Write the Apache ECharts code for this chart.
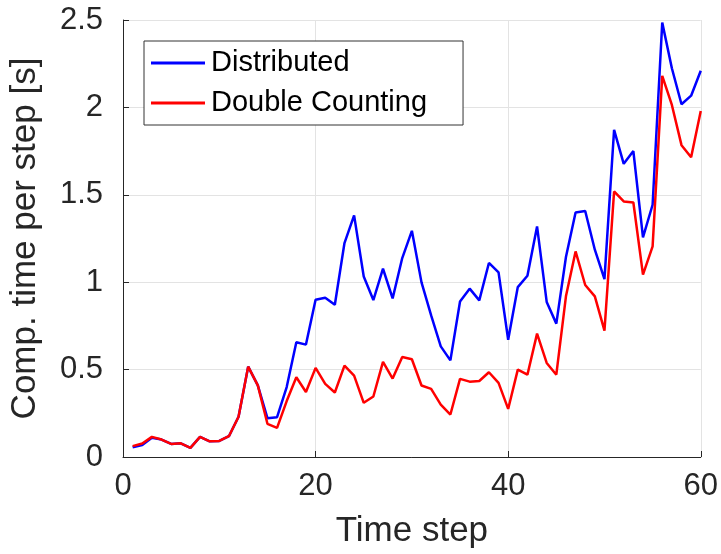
<!DOCTYPE html>
<html>
<head>
<meta charset="utf-8">
<script src="https://cdn.jsdelivr.net/npm/echarts@6/dist/echarts.min.js"></script>
<style>
  html, body { margin: 0; padding: 0; background: #fff; }
  #chart { width: 721px; height: 554px; }
</style>
</head>
<body>
<div id="chart"></div>
<script>
// Time steps 1..60
const steps = Array.from({ length: 60 }, (_, i) => i + 1);

// Computation time per step [s], distributed approach
const distributed = [
  0.056, 0.068, 0.110, 0.100, 0.075, 0.078, 0.052, 0.115, 0.090, 0.092,
  0.119, 0.230, 0.517, 0.410, 0.222, 0.228, 0.400, 0.656, 0.643, 0.900,
  0.911, 0.871, 1.224, 1.382, 1.033, 0.898, 1.077, 0.907, 1.138, 1.294,
  0.999, 0.810, 0.633, 0.553, 0.890, 0.963, 0.896, 1.110, 1.056, 0.671,
  0.972, 1.037, 1.319, 0.887, 0.763, 1.144, 1.399, 1.407, 1.186, 1.018,
  1.871, 1.677, 1.750, 1.256, 1.443, 2.485, 2.224, 2.018, 2.067, 2.210
];

// Computation time per step [s], double counting approach
const doubleCounting = [
  0.062, 0.077, 0.115, 0.100, 0.075, 0.078, 0.052, 0.115, 0.090, 0.092,
  0.119, 0.230, 0.517, 0.410, 0.190, 0.167, 0.320, 0.456, 0.372, 0.510,
  0.418, 0.369, 0.523, 0.466, 0.310, 0.346, 0.544, 0.449, 0.572, 0.559,
  0.409, 0.390, 0.300, 0.243, 0.447, 0.431, 0.435, 0.485, 0.424, 0.275,
  0.500, 0.471, 0.706, 0.538, 0.471, 0.919, 1.176, 0.984, 0.919, 0.723,
  1.519, 1.462, 1.456, 1.043, 1.205, 2.180, 2.014, 1.784, 1.715, 1.980
];

const seriesNames = ['Distributed', 'Double Counting'];
const xTitle = 'Time step';
const yTitle = 'Comp. time per step [s]';

const pair = (ys) => steps.map((x, i) => [x, ys[i]]);

const axisColor = '#262626';
const gridColor = '#e3e3e3';
const fontFamily = 'Liberation Sans, Arial, Helvetica, sans-serif';

const chart = echarts.init(document.getElementById('chart'), null, { renderer: 'canvas' });

chart.setOption({
  animation: false,
  backgroundColor: '#ffffff',
  grid: { left: 119.5, right: 18, top: 20, bottom: 96.5, containLabel: false },
  xAxis: {
    type: 'value',
    min: 0, max: 60, interval: 20,
    name: xTitle,
    nameLocation: 'middle',
    nameGap: 57,
    nameTextStyle: { color: axisColor, fontSize: 35, fontFamily },
    axisLine: { show: true, onZero: false, lineStyle: { color: axisColor, width: 1 } },
    axisTick: { show: true, inside: true, length: 6, lineStyle: { color: axisColor } },
    axisLabel: { color: axisColor, fontSize: 31, fontFamily, margin: 14 },
    splitLine: { show: true, lineStyle: { color: gridColor, width: 1 } }
  },
  yAxis: {
    type: 'value',
    min: 0, max: 2.5, interval: 0.5,
    name: yTitle,
    nameLocation: 'middle',
    nameGap: 80,
    nameTextStyle: { color: axisColor, fontSize: 35, fontFamily },
    axisLine: { show: true, onZero: false, lineStyle: { color: axisColor, width: 1 } },
    axisTick: { show: true, inside: true, length: 6, lineStyle: { color: axisColor } },
    axisLabel: { color: axisColor, fontSize: 31, fontFamily, margin: 20 },
    splitLine: { show: true, lineStyle: { color: gridColor, width: 1 } }
  },
  legend: {
    left: 144, top: 41,
    orient: 'vertical',
    data: seriesNames.map((name) => ({ name, icon: 'rect' })),
    backgroundColor: '#ffffff',
    borderColor: '#333333',
    borderWidth: 1,
    padding: [5, 36, 5, 7],
    itemWidth: 54,
    itemHeight: 3,
    itemGap: 6,
    textStyle: { color: '#000000', fontSize: 29, fontFamily, lineHeight: 32, padding: [2, 0, 0, 1] }
  },
  series: [
    {
      name: seriesNames[0],
      type: 'line',
      data: pair(distributed),
      symbol: 'none',
      lineStyle: { color: '#0000ff', width: 2.5 },
      itemStyle: { color: '#0000ff' },
      z: 2
    },
    {
      name: seriesNames[1],
      type: 'line',
      data: pair(doubleCounting),
      symbol: 'none',
      lineStyle: { color: '#ff0000', width: 2.5 },
      itemStyle: { color: '#ff0000' },
      z: 3
    }
  ]
});
</script>
</body>
</html>
